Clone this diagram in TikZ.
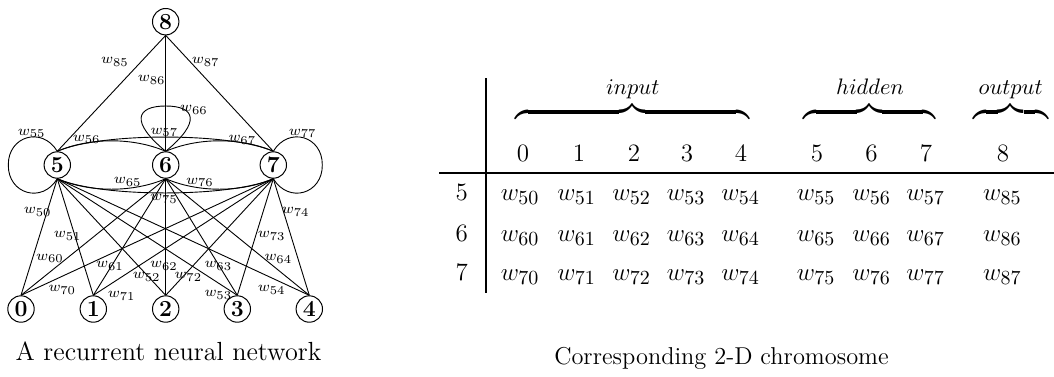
\RequirePackage{fix-cm}
\documentclass[tikz,border=0pt]{standalone}
\usepackage{exscale}
\DeclareMathSizes{7.2}{7.2}{6}{5}
\DeclareMathSizes{12.5}{12.5}{10}{8}
\DeclareMathSizes{11.2}{11.2}{8}{6}
\DeclareMathSizes{14}{14}{10}{8}
\begin{document}
\begin{tikzpicture}[x=0.5pt,y=-0.5pt,
  neuron/.style={circle,draw,line width=0.5pt,minimum size=13.2pt,inner sep=0pt,font=\fontsize{11.5}{12}\selectfont\bfseries},
  wlab/.style={inner sep=0pt,font=\fontsize{7.2}{9}\selectfont},
  conn/.style={line width=0.45pt},
  tab/.style={inner sep=0pt,anchor=base,font=\fontsize{12.5}{15}\selectfont},
  head/.style={inner sep=0pt,anchor=base,font=\fontsize{11.2}{13}\selectfont},
  brc/.style={inner sep=0pt,anchor=center,font=\fontsize{14}{16}\selectfont},
  capt/.style={inner sep=0pt,anchor=base,font=\fontsize{13.1}{15}\selectfont},
  rule/.style={line width=1.1pt}
]
\useasboundingbox (0,0) rectangle (1054,376);
% ---------- network ----------
\node[neuron] (n8) at (165.7,21.7) {8};
\node[neuron] (n5) at (57.3,165) {5};
\node[neuron] (n6) at (165.7,165) {6};
\node[neuron] (n7) at (273.3,165) {7};
\node[neuron] (n0) at (21,309) {0};
\node[neuron] (n1) at (93.3,309) {1};
\node[neuron] (n2) at (165.7,309) {2};
\node[neuron] (n3) at (237.3,309) {3};
\node[neuron] (n4) at (309.3,309) {4};
\foreach \h in {5,6,7}{\draw[conn] (n8.south) -- (n\h.north);}
\foreach \h in {5,6,7}{\foreach \i in {0,...,4}{\draw[conn] (n\h.south) -- (n\i.north);}}
% recurrent links, upper
\draw[conn] (n5.north) .. controls +(32.7,-14) and +(-32.7,-14) .. (n6.north);
\draw[conn] (n6.north) .. controls +(32.7,-14) and +(-32.7,-14) .. (n7.north);
\draw[conn] (n5.north) .. controls +(42.7,-19) and +(-42.7,-19) .. (n7.north);
% recurrent links, lower
\draw[conn] (n5.south) .. controls +(32.7,14) and +(-32.7,14) .. (n6.south);
\draw[conn] (n6.south) .. controls +(32.7,14) and +(-32.7,14) .. (n7.south);
\draw[conn] (n5.south) .. controls +(42.7,19) and +(-42.7,19) .. (n7.south);
% self loops
\draw[conn] (n5.north) .. controls (42,126) and (8,136) .. (8.3,165) .. controls (8,194) and (42,204) .. (n5.south);
\draw[conn] (n7.north) .. controls (288.6,126) and (322.6,136) .. (322.3,165) .. controls (322.6,194) and (288.6,204) .. (n7.south);
\draw[conn] (n6.north) .. controls (130,122) and (136,106) .. (165.7,106) .. controls (195.4,106) and (201.4,122) .. (n6.north);
% weight labels
\node[wlab] (l85) at (115,61.7) {$w_{85}$};
\node[wlab] (l86) at (151.7,80) {$w_{86}$};
\node[wlab] (l87) at (205.7,61.7) {$w_{87}$};
\node[wlab] (l66) at (194,110) {$w_{66}$};
\node[wlab] (l55) at (31.7,133.3) {$w_{55}$};
\node[wlab] (l56) at (86.7,139.3) {$w_{56}$};
\node[wlab] (l57) at (164.3,132.3) {$w_{57}$};
\node[wlab] (l67) at (242.3,140) {$w_{67}$};
\node[wlab] (l77) at (302.7,133.3) {$w_{77}$};
\node[wlab] (l65) at (127.7,181.7) {$w_{65}$};
\node[wlab] (l76) at (200,182.3) {$w_{76}$};
\node[wlab] (l75) at (164,199) {$w_{75}$};
\node[wlab] (l50) at (37.7,211.7) {$w_{50}$};
\node[wlab] (l51) at (67.7,235.7) {$w_{51}$};
\node[wlab] (l60) at (50,258.3) {$w_{60}$};
\node[wlab] (l61) at (110,265.7) {$w_{61}$};
\node[wlab] (l62) at (164,265.7) {$w_{62}$};
\node[wlab] (l63) at (218.3,265.7) {$w_{63}$};
\node[wlab] (l64) at (278.3,259) {$w_{64}$};
\node[wlab] (l73) at (271.7,235.7) {$w_{73}$};
\node[wlab] (l74) at (295.7,211.7) {$w_{74}$};
\node[wlab] (l52) at (146.7,276.7) {$w_{52}$};
\node[wlab] (l72) at (188.3,276.7) {$w_{72}$};
\node[wlab] (l70) at (62.3,290) {$w_{70}$};
\node[wlab] (l71) at (121.7,295.7) {$w_{71}$};
\node[wlab] (l53) at (218.3,295) {$w_{53}$};
\node[wlab] (l54) at (271.7,290) {$w_{54}$};
\node[capt] (cap1) at (168.5,360) {A recurrent neural network};
% ---------- chromosome table ----------
\draw[rule] (486,78) -- (486,293);
\draw[rule] (439,173.3) -- (1054,173.3);
\node[brc] (bin) at (632.2,112) {$\hbox to 117pt{\downbracefill}$};
\node[brc] (bhid) at (869.5,112) {$\hbox to 66pt{\downbracefill}$};
\node[brc] (bout) at (1010.7,112) {$\hbox to 37.5pt{\downbracefill}$};
\node[head] (hin) at (632.7,94.5) {$input$};
\node[head] (hhid) at (870,94.5) {$hidden$};
\node[head] (hout) at (1010.7,94.5) {$output$};
\foreach \c/\x in {0/523,1/579,2/634,3/687,4/741,5/817,6/871.5,7/926,8/1003}{
  \node[tab] (c\c) at (\x,161.7) {$\c$};}
\foreach \r/\y in {5/200.7,6/241,7/280.7}{
  \node[tab] (r\r) at (461.7,\y) {$\r$};
  \foreach \c/\x in {0/520,1/576.7,2/631.7,3/686,4/740.7,5/816,6/871.7,7/925.7}{
    \node[tab] (e\r\c) at (\x,\y) {$w_{\r\c}$};}
}
\node[tab] (e85) at (1002.3,200.7) {$w_{85}$};
\node[tab] (e86) at (1002.3,241) {$w_{86}$};
\node[tab] (e87) at (1002.3,280.7) {$w_{87}$};
\node[capt,font=\fontsize{12.2}{15}\selectfont] (cap2) at (721.5,364) {Corresponding 2-D chromosome};
\end{tikzpicture}
\end{document}
